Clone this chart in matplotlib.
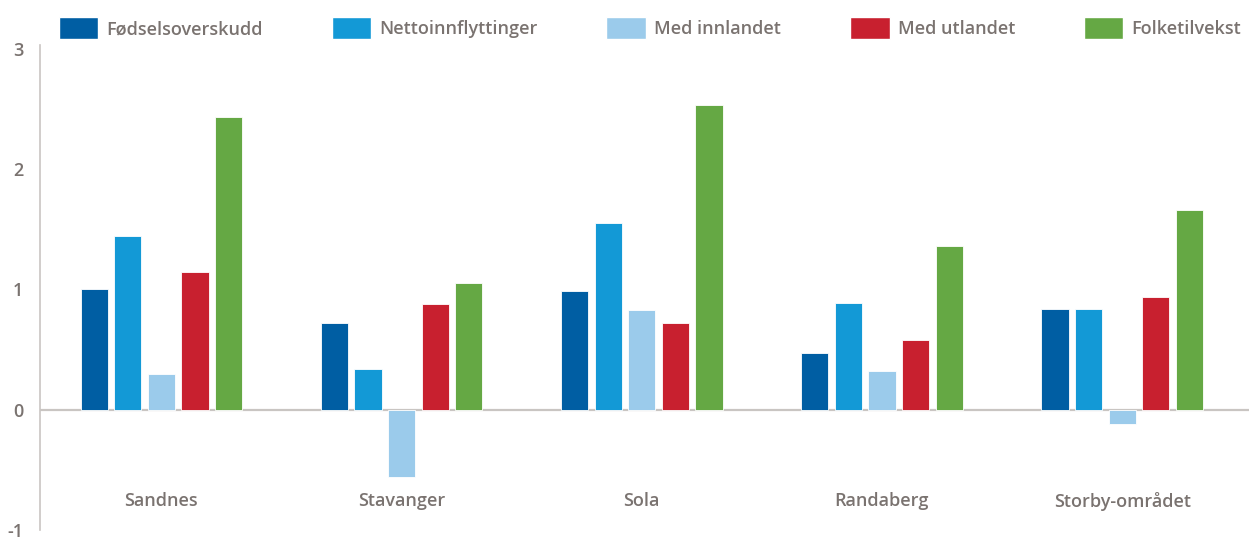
import numpy as np
import matplotlib.pyplot as plt
from matplotlib.patches import Patch

kommuner = ["Sandnes", "Stavanger", "Sola", "Randaberg", "Storby-området"]
serier = ["Fødselsoverskudd", "Nettoinnflyttinger", "Med innlandet", "Med utlandet", "Folketilvekst"]
fodsel = [1.0, 0.72, 0.99, 0.47, 0.84]
netto = [1.44, 0.34, 1.55, 0.89, 0.84]
innland = [0.30, -0.56, 0.83, 0.32, -0.12]
utland = [1.14, 0.88, 0.72, 0.58, 0.94]
folk = [2.43, 1.05, 2.53, 1.36, 1.66]
farger = ["#005ea3", "#1399d6", "#9bcbeb", "#c8202f", "#65a844"]
yticks = [-1, 0, 1, 2, 3]

grå = "#7a7370"
plt.rcParams['font.family'] = ['Open Sans', 'DejaVu Sans']

fig = plt.figure(figsize=(12.52, 5.42), dpi=100)
ax = fig.add_axes([0.032, 0.022, 0.966, 0.895])

x = np.arange(len(kommuner))
bredde = 0.113
steg = 0.14
for j, verdier in enumerate([fodsel, netto, innland, utland, folk]):
    ax.bar(x + (j - 2) * steg, verdier, bredde, color=farger[j],
           edgecolor="white", linewidth=0.6, zorder=2)

ax.axhline(0, color="#c9c5c2", linewidth=1.6, zorder=1)
ax.set_xlim(-0.505, 4.53)
ax.set_ylim(-1, 3.03)
ax.set_yticks(yticks)
ax.set_yticklabels([str(t) for t in yticks], color=grå, fontsize=13, fontweight="semibold")
ax.tick_params(axis="y", length=0, pad=12)
ax.set_xticks([])
for s in ["top", "right", "bottom"]:
    ax.spines[s].set_visible(False)
ax.spines["left"].set_color("#c9c5c2")
ax.spines["left"].set_linewidth(1.2)

for i, navn in enumerate(kommuner):
    ax.text(i, -0.76, navn, ha="center", va="center", color=grå,
            fontsize=13, fontweight="semibold")

handles = [Patch(facecolor=c, edgecolor="white") for c in farger]
leg = fig.legend(handles, serier, loc="center left", bbox_to_anchor=(0.044, 0.948), ncol=5,
                 frameon=False, handlelength=2.2, handleheight=1.5, handletextpad=0.45,
                 columnspacing=3.8, fontsize=13, borderaxespad=0, borderpad=0.2)
for t in leg.get_texts():
    t.set_color(grå)
    t.set_fontweight("semibold")

fig.savefig("out.png", dpi=100)
